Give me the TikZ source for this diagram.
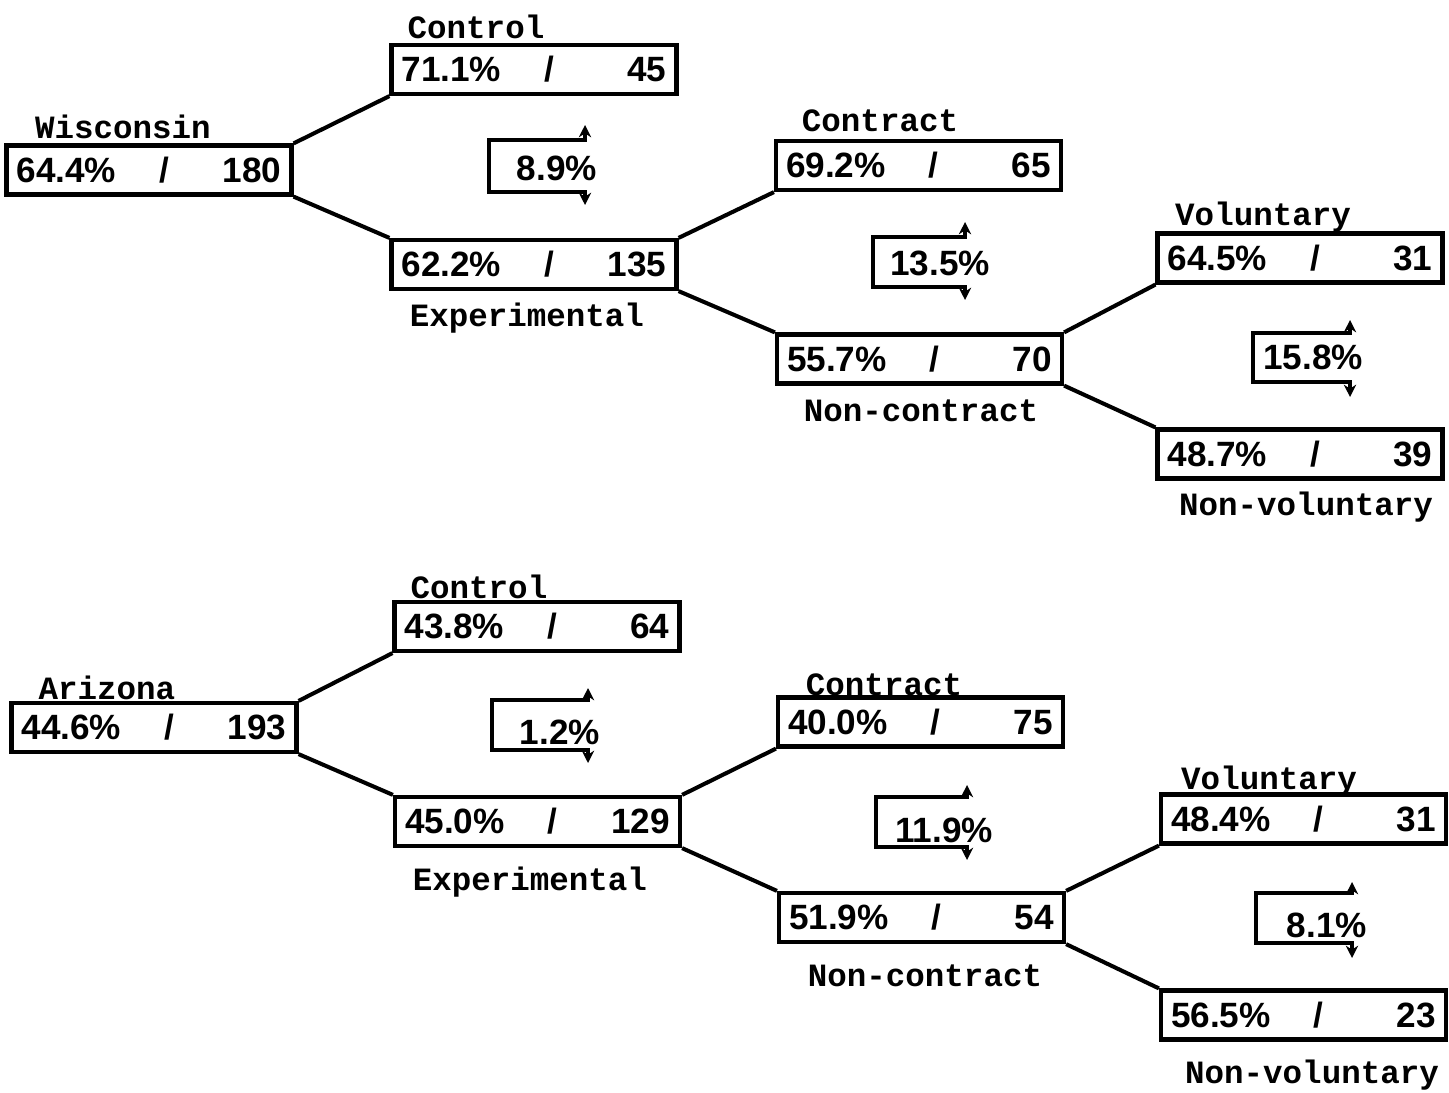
\documentclass[tikz,border=0pt]{standalone}
\usepackage{fontspec}
\setmainfont{Liberation Sans}
\newfontfamily\typefont[UprightFont={* Bold}]{Liberation Mono}
\usepackage{tikz}
\usetikzlibrary{arrows.meta,positioning}
\newlength{\cellw}
\setlength{\cellw}{5.3cm}
\newcommand{\boxcell}[2]{\makebox[\cellw]{\rlap{#1}\hfill\hspace{0.6cm}/\hfill\llap{#2}}}
\tikzset{
  cellbox/.style={draw, line width=2.4pt, minimum width=5.7cm, minimum height=0.98cm,
    inner sep=0pt, font=\bfseries\fontsize{20}{22}\selectfont},
  lbl/.style={anchor=base, inner sep=0pt, font=\typefont\fontsize{18.5}{20}\selectfont},
  branch/.style={line width=2.3pt},
  diffmark/.style={line width=2.2pt, {Stealth[length=7pt,width=7pt]}-{Stealth[length=7pt,width=7pt]}},
  difftext/.style={inner sep=0pt, font=\bfseries\fontsize{20}{22}\selectfont}
}

\begin{document}
\begin{tikzpicture}[x=0.02cm, y=-0.02cm]
    \useasboundingbox (0,0) rectangle (1449,1092);
    % Wisconsin
    \node[cellbox] (wis) at (149,170) {\boxcell{64.4\%}{180}};
    \node[cellbox] (wctl) at (534,69.5) {\boxcell{71.1\%}{45}};
    \node[cellbox] (wexp) at (534,264.5) {\boxcell{62.2\%}{135}};
    \node[cellbox] (wcon) at (918.5,165.5) {\boxcell{69.2\%}{65}};
    \node[cellbox] (wncon) at (919.5,359) {\boxcell{55.7\%}{70}};
    \node[cellbox] (wvol) at (1300,258) {\boxcell{64.5\%}{31}};
    \node[cellbox] (wnvol) at (1300,454) {\boxcell{48.7\%}{39}};
    \node[lbl] (wisl) at (123,138) {Wisconsin};
    \node[lbl] (wctll) at (476,38) {Control};
    \node[lbl] (wexpl) at (527,326) {Experimental};
    \node[lbl] (wconl) at (880,131) {Contract};
    \node[lbl] (wnconl) at (921,421) {Non-contract};
    \node[lbl] (wvoll) at (1263,225) {Voluntary};
    \node[lbl] (wnvoll) at (1306,515) {Non-voluntary};
    \draw[branch] (wis.north east) -- (wctl.south west);
    \draw[branch] (wis.south east) -- (wexp.north west);
    \draw[branch] (wexp.north east) -- (wcon.south west);
    \draw[branch] (wexp.south east) -- (wncon.north west);
    \draw[branch] (wncon.north east) -- (wvol.south west);
    \draw[branch] (wncon.south east) -- (wnvol.north west);
    % differences
    \draw[diffmark] (585,125) -- (585,140) -- (489,140) -- (489,192) -- (585,192) -- (585,205);
    \node[difftext] (wd1) at (557,168) {8.9\%};
    \draw[diffmark] (965,222) -- (965,237) -- (873,237) -- (873,287) -- (965,287) -- (965,300);
    \node[difftext] (wd2) at (940,263) {13.5\%};
    \draw[diffmark] (1350,320) -- (1350,333) -- (1253,333) -- (1253,382) -- (1350,382) -- (1350,397);
    \node[difftext] (wd3) at (1313,357) {15.8\%};
    % Arizona
    \node[cellbox] (ari) at (154,727.5) {\boxcell{44.6\%}{193}};
    \node[cellbox] (actl) at (537,626.5) {\boxcell{43.8\%}{64}};
    \node[cellbox] (aexp) at (537.5,821.5) {\boxcell{45.0\%}{129}};
    \node[cellbox] (acon) at (920.5,722) {\boxcell{40.0\%}{75}};
    \node[cellbox] (ancon) at (921.5,917.5) {\boxcell{51.9\%}{54}};
    \node[cellbox] (avol) at (1303.5,819) {\boxcell{48.4\%}{31}};
    \node[cellbox] (anvol) at (1303.5,1015) {\boxcell{56.5\%}{23}};
    \node[lbl] (aril) at (107,699) {Arizona};
    \node[lbl] (actll) at (479,598) {Control};
    \node[lbl] (aexpl) at (530,890) {Experimental};
    \node[lbl] (aconl) at (884,695) {Contract};
    \node[lbl] (anconl) at (925,986) {Non-contract};
    \node[lbl] (avoll) at (1269,789) {Voluntary};
    \node[lbl] (anvoll) at (1312,1083) {Non-voluntary};
    \draw[branch] (ari.north east) -- (actl.south west);
    \draw[branch] (ari.south east) -- (aexp.north west);
    \draw[branch] (aexp.north east) -- (acon.south west);
    \draw[branch] (aexp.south east) -- (ancon.north west);
    \draw[branch] (ancon.north east) -- (avol.south west);
    \draw[branch] (ancon.south east) -- (anvol.north west);
    % differences
    \draw[diffmark] (588,688) -- (588,700) -- (492,700) -- (492,750) -- (588,750) -- (588,763);
    \node[difftext] (ad1) at (560,732) {1.2\%};
    \draw[diffmark] (967,785) -- (967,797) -- (876,797) -- (876,847) -- (967,847) -- (967,860);
    \node[difftext] (ad2) at (944,830) {11.9\%};
    \draw[diffmark] (1352,882) -- (1352,893) -- (1256,893) -- (1256,943) -- (1352,943) -- (1352,958);
    \node[difftext] (ad3) at (1327,925) {8.1\%};
\end{tikzpicture}
\end{document}
